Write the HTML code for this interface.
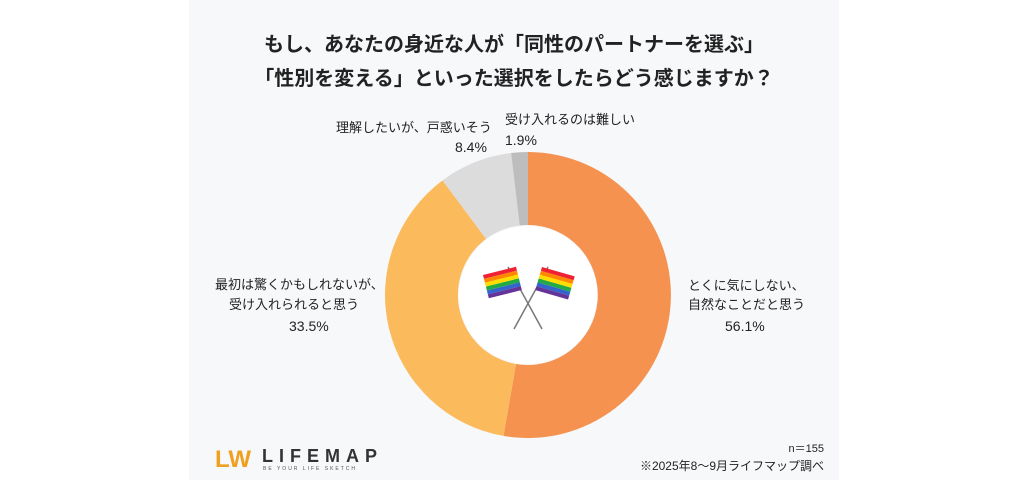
<!DOCTYPE html>
<html><head><meta charset="utf-8"><style>
body{margin:0;width:1024px;height:484px;background:#fff;position:relative;overflow:hidden;font-family:"Liberation Sans","Noto Sans CJK JP",sans-serif;color:#222}
.panel{position:absolute;left:189px;top:0;width:650px;height:480px;background:#f7f8fa}
.t{position:absolute;white-space:nowrap}
.title{left:189px;width:650px;text-align:center;font-size:20px;font-weight:bold;letter-spacing:0}
.lab{font-size:13px}
.pct{font-size:14px}
</style></head><body>
<div class="panel"></div>
<div class="t title" style="top:28px">もし、あなたの身近な人が「同性のパートナーを選ぶ」</div>
<div class="t title" style="top:62px">「性別を変える」といった選択をしたらどう感じますか？</div>
<svg style="position:absolute;left:0;top:0" width="1024" height="484">
<g transform="translate(528,295)">
<path d="M0,-143 A143,143 0 1 1 -24.5,140.9 L-12,69 A70,70 0 1 0 0,-70Z" fill="#f5924f"/>
<path d="M-24.5,140.9 A143,143 0 0 1 -85.5,-114.6 L-41.9,-56.1 A70,70 0 0 0 -12,69Z" fill="#fbbb5d"/>
<path d="M-85.5,-114.6 A143,143 0 0 1 -16.9,-142 L-8.3,-69.5 A70,70 0 0 0 -41.9,-56.1Z" fill="#dcdcdc"/>
<path d="M-16.9,-142 A143,143 0 0 1 0,-143 L0,-70 A70,70 0 0 0 -8.3,-69.5Z" fill="#bdbdbd"/>
<circle r="69" fill="#fff"/>
<line x1="-20" y1="-28" x2="14" y2="34" stroke="#777" stroke-width="1.5"/>
<line x1="20" y1="-28" x2="-14" y2="34" stroke="#777" stroke-width="1.5"/>
<g transform="translate(-45,-20) rotate(-14)">
<rect x="0" y="0" width="34" height="4" fill="#e23"/><rect x="0" y="4" width="34" height="4" fill="#f80"/><rect x="0" y="8" width="34" height="4" fill="#fd0"/><rect x="0" y="12" width="34" height="4" fill="#2a4"/><rect x="0" y="16" width="34" height="4" fill="#36c"/><rect x="0" y="20" width="34" height="4" fill="#639"/></g>
<g transform="translate(14,-28) rotate(16)">
<rect x="0" y="0" width="34" height="4" fill="#e23"/><rect x="0" y="4" width="34" height="4" fill="#f80"/><rect x="0" y="8" width="34" height="4" fill="#fd0"/><rect x="0" y="12" width="34" height="4" fill="#2a4"/><rect x="0" y="16" width="34" height="4" fill="#36c"/><rect x="0" y="20" width="34" height="4" fill="#639"/></g>
</g>
<text x="215" y="467" font-family="Liberation Sans" font-weight="bold" font-size="24" fill="#f0a020">LW</text>
<text x="262" y="462" font-family="Liberation Sans" font-weight="bold" font-size="18" fill="#333" letter-spacing="6">LIFEMAP</text>
<text x="263" y="470" font-family="Liberation Sans" font-size="5" fill="#555" letter-spacing="2">BE YOUR LIFE SKETCH</text>
</svg>
<div class="t lab" style="left:336px;top:117px">理解したいが、戸惑いそう</div>
<div class="t pct" style="left:455px;top:139px">8.4%</div>
<div class="t lab" style="left:505px;top:109px">受け入れるのは難しい</div>
<div class="t pct" style="left:505px;top:132px">1.9%</div>
<div class="t lab" style="left:215px;top:274px">最初は驚くかもしれないが、</div>
<div class="t lab" style="left:229px;top:294px">受け入れられると思う</div>
<div class="t pct" style="left:289px;top:318px">33.5%</div>
<div class="t lab" style="left:688px;top:275px">とくに気にしない、</div>
<div class="t lab" style="left:688px;top:294px">自然なことだと思う</div>
<div class="t pct" style="left:725px;top:318px">56.1%</div>
<div class="t" style="right:200px;top:440px;font-size:11px">n＝155</div>
<div class="t" style="right:200px;top:457px;font-size:12px">※2025年8〜9月ライフマップ調べ</div>
</body></html>
